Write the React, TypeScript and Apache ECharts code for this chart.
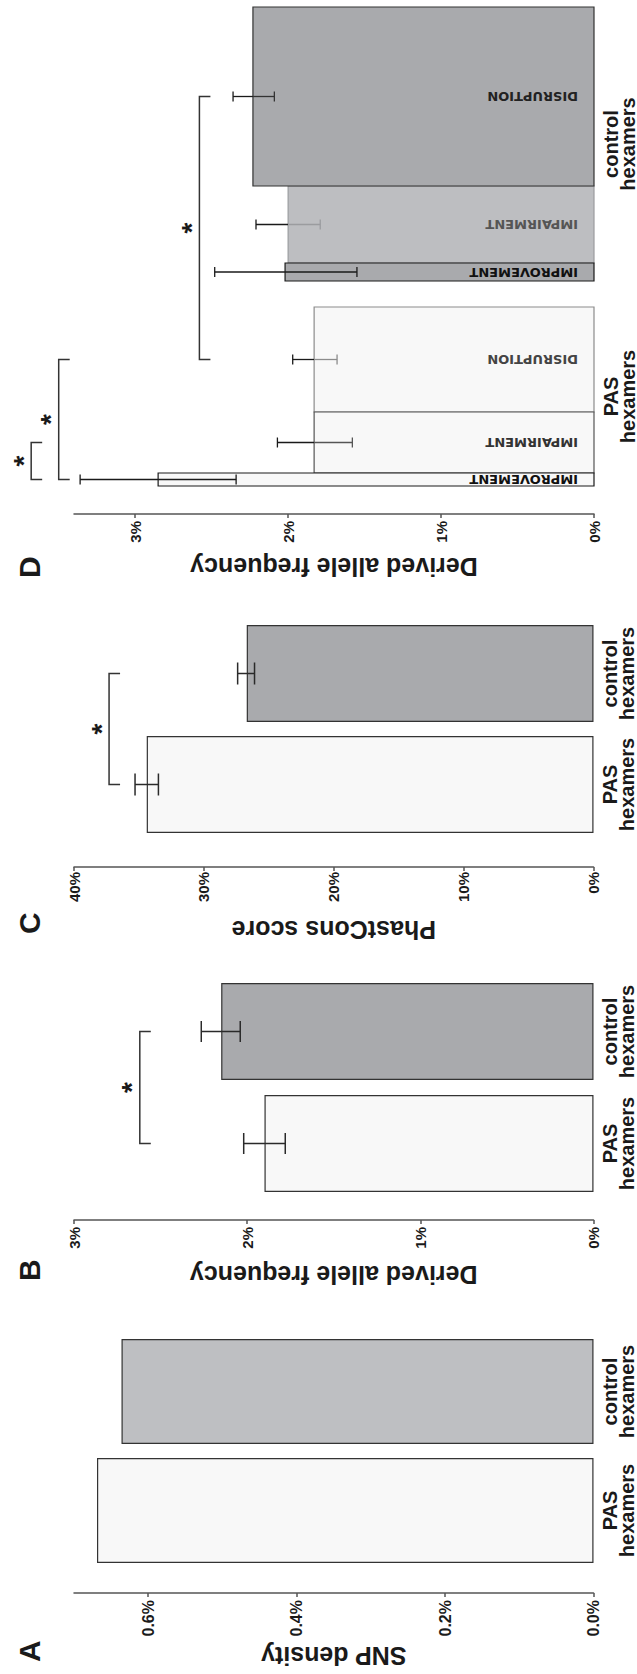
import React, { useEffect, useRef } from 'react';
import * as echarts from 'echarts';

const FONT = '"Liberation Sans", Arial, Helvetica, sans-serif';
const FONT_WIDE = '"DejaVu Sans", sans-serif';

// ---------- data ----------
const groups = ['PAS\nhexamers', 'control\nhexamers'];

// A: SNP density
const snpDensity = [0.669, 0.636];
const snpTicks = [0, 0.2, 0.4, 0.6];
const snpMax = 0.7;

// B: derived allele frequency
const dafMean = [1.9, 2.15];
const dafLow = [1.78, 2.04];
const dafHigh = [2.02, 2.265];
const dafMax = 3;
const dafBrackets = [[0, 1, 2.62]];

// C: PhastCons score
const phastMean = [34.4, 26.7];
const phastLow = [33.5, 26.1];
const phastHigh = [35.3, 27.4];
const phastMax = 40;
const phastBrackets = [[0, 1, 37.3]];

// D: derived allele frequency by effect class
const effectClasses = ['IMPROVEMENT', 'IMPAIRMENT', 'DISRUPTION'];
const dPasMean = [2.85, 1.83, 1.83];
const dPasLow = [2.34, 1.58, 1.68];
const dPasHigh = [3.36, 2.07, 1.97];
const dPasShare = [13, 61, 105];
const dCtrlMean = [2.02, 2.0, 2.23];
const dCtrlLow = [1.55, 1.79, 2.09];
const dCtrlHigh = [2.48, 2.21, 2.36];
const dCtrlShare = [18, 77, 179];
const dTicks = [0, 1, 2, 3];
const dMax = 3.4;
// [from bar, to bar, level]
const dBrackets = [[0, 1, 3.68], [0, 2, 3.5], [2, 5, 2.58]];

// ---------- layout / styles ----------
const D_LEAD = 28;
const D_GAP = 26;
const D_SPAN = 514;
const TICK = 11;
const CAT_MARGIN = 8;

const dFill = [['#f8f8f8', '#f8f8f8', '#f8f8f8'], ['#a9aaad', '#bdbec1', '#a9aaad']];
const dStroke = [['#1a1a1a', '#555555', '#8c8c8c'], ['#1a1a1a', '#9b9c9f', '#333333']];
const dLabelColor = [['#111111', '#333333', '#444444'], ['#111111', '#555555', '#222222']];
const dZ = [[3, 2, 1], [3, 1, 2]];

type DBar = { start: number; end: number; mean: number; low: number; high: number; cls: number; group: number };
const dBars: DBar[] = [];
(() => {
  let pos = D_LEAD;
  const sets = [
    [dPasMean, dPasLow, dPasHigh, dPasShare],
    [dCtrlMean, dCtrlLow, dCtrlHigh, dCtrlShare],
  ];
  sets.forEach((g, gi) => {
    if (gi > 0) pos += D_GAP;
    for (let k = 0; k < 3; k++) {
      dBars.push({ start: pos, end: pos + g[3][k], mean: g[0][k], low: g[1][k], high: g[2][k], cls: k, group: gi });
      pos += g[3][k];
    }
  });
})();
const dGroupSpans = [
  [dBars[0].start, dBars[2].end],
  [dBars[3].start, dBars[5].end],
];

const textColor = '#1a1a1a';

function valueAxis(gridIndex: number, max: number, name: string, nameGap: number, offset: number, opt: any) {
  const axis: any = {
    type: 'value',
    gridIndex,
    min: 0,
    max,
    offset,
    name,
    nameLocation: 'middle',
    nameGap,
    nameTextStyle: { fontSize: 25, fontWeight: 'bold', color: textColor, fontFamily: FONT },
    axisLine: { show: true, lineStyle: { color: '#555', width: 1.5 } },
    axisTick: { show: true, inside: false, length: 4, lineStyle: { color: '#555', width: 1.5 } },
    axisLabel: {
      margin: opt.margin,
      fontSize: opt.fontSize,
      fontWeight: 'bold',
      color: textColor,
      fontFamily: FONT,
      formatter: opt.formatter,
    },
    splitLine: { show: false },
  };
  if (opt.ticks) {
    axis.axisTick.customValues = opt.ticks;
    axis.axisLabel.customValues = opt.ticks;
  }
  if (opt.interval) axis.interval = opt.interval;
  return axis;
}

function catAxis(gridIndex: number) {
  return {
    type: 'category',
    gridIndex,
    data: groups,
    axisLine: { show: false },
    axisTick: { show: false },
    axisLabel: {
      interval: 0,
      margin: CAT_MARGIN,
      fontSize: 20,
      lineHeight: 17,
      fontWeight: 'bold',
      color: textColor,
      fontFamily: FONT,
    },
  };
}

function barSeries(idx: number, values: number[], width: number, ctrlColor: string) {
  return {
    type: 'bar',
    xAxisIndex: idx,
    yAxisIndex: idx,
    barWidth: width,
    silent: true,
    data: values.map((v, i) => ({ value: v, itemStyle: { color: i === 0 ? '#f8f8f8' : ctrlColor } })),
    itemStyle: { borderColor: '#333', borderWidth: 1.2 },
  };
}

function errorSeries(idx: number, low: number[], high: number[], cap: number) {
  return {
    type: 'custom',
    xAxisIndex: idx,
    yAxisIndex: idx,
    clip: false,
    silent: true,
    z: 5,
    data: low.map((l, i) => [i, l, high[i]]),
    renderItem: (params: any, api: any) => {
      const i = api.value(0);
      const lo = api.coord([i, api.value(1)]);
      const hi = api.coord([i, api.value(2)]);
      const x = lo[0];
      const st = { stroke: '#2a2a2a', lineWidth: 1.5 };
      return {
        type: 'group',
        children: [
          { type: 'line', shape: { x1: x, y1: lo[1], x2: x, y2: hi[1] }, style: st },
          { type: 'line', shape: { x1: x - cap, y1: lo[1], x2: x + cap, y2: lo[1] }, style: st },
          { type: 'line', shape: { x1: x - cap, y1: hi[1], x2: x + cap, y2: hi[1] }, style: st },
        ],
      };
    },
  };
}

function bracketSeries(idx: number, brackets: number[][], centerOf: (i: number) => number) {
  return {
    type: 'custom',
    xAxisIndex: idx,
    yAxisIndex: idx,
    clip: false,
    silent: true,
    z: 6,
    data: brackets,
    renderItem: (params: any, api: any) => {
      const lvl = api.value(2);
      const a = api.coord([centerOf(api.value(0)), lvl]);
      const b = api.coord([centerOf(api.value(1)), lvl]);
      const y = a[1];
      return {
        type: 'group',
        children: [
          {
            type: 'polyline',
            shape: { points: [[a[0], y + TICK], [a[0], y], [b[0], y], [b[0], y + TICK]] },
            style: { stroke: '#333', lineWidth: 1.5, fill: 'none' },
          },
          {
            type: 'text',
            x: (a[0] + b[0]) / 2,
            y: y - 8,
            style: {
              text: '*',
              fontSize: 28,
              fontWeight: 'bold',
              fontFamily: FONT,
              fill: textColor,
              align: 'center',
              verticalAlign: 'middle',
            },
          },
        ],
      };
    },
  };
}

const panelTitle = (text: string, left: number) => ({
  text,
  left,
  top: 14,
  padding: 0,
  textStyle: { fontSize: 30, fontWeight: 'bold', color: textColor, fontFamily: FONT },
});

const pct1 = (v: number) => v.toFixed(1) + '%';
const pct0 = (v: number) => Math.round(v) + '%';

const option: any = {
  animation: false,
  backgroundColor: '#ffffff',
  title: [panelTitle('A', 12), panelTitle('B', 393), panelTitle('C', 740), panelTitle('D', 1096)],
  grid: [
    { left: 104, width: 238, top: 74, height: 520 },
    { left: 474.5, width: 224, top: 74, height: 520 },
    { left: 834, width: 222, top: 74, height: 520 },
    { left: 1160, width: D_SPAN, top: 74, height: 520 },
  ],
  xAxis: [
    catAxis(0),
    catAxis(1),
    catAxis(2),
    { type: 'value', gridIndex: 3, min: 0, max: D_SPAN, show: false },
  ],
  yAxis: [
    valueAxis(0, snpMax, 'SNP density', 50.5, 23, { ticks: snpTicks, margin: 7, fontSize: 16, formatter: pct1 }),
    valueAxis(1, dafMax, 'Derived allele frequency', 42.5, 20.5, { interval: 1, margin: 7, fontSize: 15, formatter: pct0 }),
    valueAxis(2, phastMax, 'PhastCons score', 50.5, 27, { interval: 10, margin: 5, fontSize: 15, formatter: pct0 }),
    valueAxis(3, dMax, 'Derived allele frequency', 40.5, 0, { ticks: dTicks, margin: 7, fontSize: 15, formatter: pct0 }),
  ],
  series: [
    barSeries(0, snpDensity, 105, '#bebfc2'),
    barSeries(1, dafMean, 97, '#a9aaad'),
    barSeries(2, phastMean, 97, '#a9aaad'),
    errorSeries(1, dafLow, dafHigh, 10.5),
    errorSeries(2, phastLow, phastHigh, 11),
    bracketSeries(1, dafBrackets, (i) => i),
    bracketSeries(2, phastBrackets, (i) => i),
    {
      type: 'custom',
      xAxisIndex: 3,
      yAxisIndex: 3,
      clip: false,
      silent: true,
      data: dBars.map((b) => [b.start, b.end, b.mean, b.low, b.high, b.cls, b.group]),
      renderItem: (params: any, api: any) => {
        const s = api.value(0);
        const e = api.value(1);
        const cls = api.value(5);
        const g = api.value(6);
        const base = api.coord([s, 0]);
        const top = api.coord([e, api.value(2)]);
        const cx = (base[0] + top[0]) / 2;
        const pLo = api.coord([s, api.value(3)])[1];
        const pHi = api.coord([s, api.value(4)])[1];
        const stroke = dStroke[g][cls];
        const outer = { stroke: '#1a1a1a', lineWidth: 1.3 };
        const inner = { stroke, lineWidth: 1.3 };
        const cap = 5;
        return {
          type: 'group',
          children: [
            {
              type: 'rect',
              z2: dZ[g][cls],
              shape: { x: base[0], y: top[1], width: top[0] - base[0], height: base[1] - top[1] },
              style: { fill: dFill[g][cls], stroke, lineWidth: 1.2 },
            },
            { type: 'line', z2: 10, shape: { x1: cx, y1: pHi, x2: cx, y2: top[1] }, style: outer },
            { type: 'line', z2: 10, shape: { x1: cx, y1: top[1], x2: cx, y2: pLo }, style: inner },
            { type: 'line', z2: 10, shape: { x1: cx - cap, y1: pHi, x2: cx + cap, y2: pHi }, style: outer },
            { type: 'line', z2: 10, shape: { x1: cx - cap, y1: pLo, x2: cx + cap, y2: pLo }, style: inner },
            {
              type: 'text',
              z2: 11,
              x: cx,
              y: base[1] - 16,
              rotation: Math.PI / 2,
              style: {
                text: effectClasses[cls],
                fill: dLabelColor[g][cls],
                fontSize: 13,
                fontWeight: 'bold',
                fontFamily: FONT_WIDE,
                align: 'left',
                verticalAlign: 'middle',
              },
            },
          ],
        };
      },
    },
    {
      type: 'custom',
      xAxisIndex: 3,
      yAxisIndex: 3,
      clip: false,
      silent: true,
      data: dGroupSpans,
      renderItem: (params: any, api: any) => {
        const a = api.coord([(api.value(0) + api.value(1)) / 2, 0]);
        return {
          type: 'text',
          x: a[0],
          y: a[1] + CAT_MARGIN,
          style: {
            text: groups[params.dataIndex],
            fontSize: 20,
            lineHeight: 17,
            fontWeight: 'bold',
            fontFamily: FONT,
            fill: textColor,
            align: 'center',
            verticalAlign: 'top',
          },
        };
      },
    },
    bracketSeries(3, dBrackets, (i) => (dBars[i].start + dBars[i].end) / 2),
  ],
};

export default function App() {
  const ref = useRef<HTMLDivElement>(null);
  useEffect(() => {
    if (!ref.current) return;
    const chart = echarts.init(ref.current, null, { renderer: 'svg' });
    chart.setOption(option);
    return () => chart.dispose();
  }, []);
  return (
    <div
      style={{
        position: 'absolute',
        left: 0,
        top: 0,
        width: 637,
        height: 1674,
        overflow: 'hidden',
        background: '#ffffff',
      }}
    >
      <div
        ref={ref}
        style={{
          position: 'absolute',
          left: 0,
          top: 0,
          width: 1674,
          height: 637,
          transformOrigin: '0 0',
          transform: 'translateY(1674px) rotate(-90deg)',
        }}
      />
    </div>
  );
}
